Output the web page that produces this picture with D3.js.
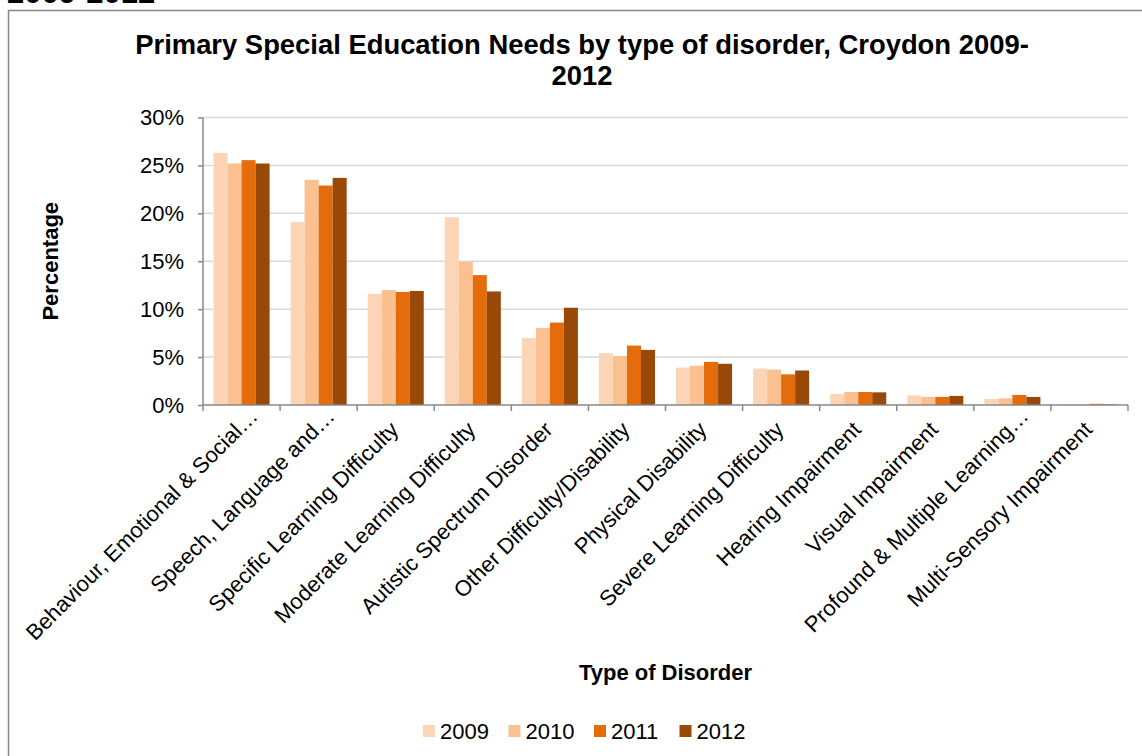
<!DOCTYPE html>
<html>
<head>
<meta charset="utf-8">
<script src="https://cdn.jsdelivr.net/npm/d3@7"></script>
<style>
  body { margin: 0; background: #fff; }
  svg { display: block; font-family: "Liberation Sans", Arial, sans-serif; }
</style>
</head>
<body>
<svg id="chart" width="1142" height="756"></svg>
<script>
var categories = [
  "Behaviour, Emotional & Social…",
  "Speech, Language and…",
  "Specific Learning Difficulty",
  "Moderate Learning Difficulty",
  "Autistic Spectrum Disorder",
  "Other Difficulty/Disability",
  "Physical Disability",
  "Severe Learning Difficulty",
  "Hearing Impairment",
  "Visual Impairment",
  "Profound & Multiple Learning…",
  "Multi-Sensory Impairment"
];
var years = ["2009", "2010", "2011", "2012"];
var values2009 = [26.3, 19.1, 11.6, 19.6, 7.0, 5.4, 3.9, 3.8, 1.15, 1.0, 0.63, 0.05];
var values2010 = [25.2, 23.5, 12.0, 14.95, 8.05, 5.1, 4.1, 3.7, 1.36, 0.85, 0.7, 0.05];
var values2011 = [25.55, 22.9, 11.8, 13.55, 8.6, 6.2, 4.5, 3.2, 1.36, 0.85, 1.05, 0.12];
var values2012 = [25.2, 23.7, 11.9, 11.85, 10.15, 5.75, 4.3, 3.6, 1.32, 0.95, 0.84, 0.05];
var yTicks = [0, 5, 10, 15, 20, 25, 30];
var colors = ["#FBD5B5", "#FAC090", "#E46C0A", "#984807"];

var series = [values2009, values2010, values2011, values2012];

var svg = d3.select("#chart");
var plot = {left: 203, right: 1128, top: 117.5, bottom: 405};

// chart frame, runs off the right and bottom of the picture
svg.append("rect")
  .attr("x", 8.5).attr("y", 10.5)
  .attr("width", 1160).attr("height", 800)
  .attr("fill", "#fff")
  .attr("stroke", "#878787")
  .attr("stroke-width", 1.5);

// heading of the page above, mostly cut off
svg.append("text")
  .attr("x", 7).attr("y", 3)
  .style("font-size", "31px").style("font-weight", "bold")
  .text("2009-2012");

var x0 = d3.scaleBand()
  .domain(categories)
  .range([plot.left, plot.right])
  .paddingInner(0.2724)
  .paddingOuter(0.1362);

var x1 = d3.scaleBand()
  .domain(years)
  .range([0, x0.bandwidth()]);

var y = d3.scaleLinear()
  .domain([0, 30])
  .range([plot.bottom, plot.top]);

// gridlines
svg.append("g")
  .selectAll("line")
  .data(yTicks.slice(1))
  .enter().append("line")
  .attr("x1", plot.left).attr("x2", plot.right)
  .attr("y1", function(d){ return y(d); })
  .attr("y2", function(d){ return y(d); })
  .attr("stroke", "#D9D9D9")
  .attr("stroke-width", 1.5);

// bars
svg.append("g")
  .selectAll("g")
  .data(series)
  .enter().append("g")
  .attr("fill", function(d, i){ return colors[i]; })
  .selectAll("rect")
  .data(function(d, i){
    return d.map(function(v, j){ return {cat: categories[j], year: years[i], value: v}; });
  })
  .enter().append("rect")
  .attr("x", function(d){ return x0(d.cat) + x1(d.year); })
  .attr("width", x1.bandwidth())
  .attr("y", function(d){ return y(d.value); })
  .attr("height", function(d){ return y(0) - y(d.value); });

// y axis
var yAxis = svg.append("g")
  .attr("transform", "translate(" + plot.left + ",0)")
  .call(d3.axisLeft(y)
    .tickValues(yTicks)
    .tickSize(5)
    .tickPadding(14)
    .tickFormat(function(d){ return d + "%"; }));
yAxis.select(".domain").attr("stroke", "#898989").attr("stroke-width", 1.5)
  .attr("d", "M0," + plot.top + "V" + plot.bottom);
yAxis.selectAll(".tick line").attr("stroke", "#898989").attr("stroke-width", 1.5);
yAxis.selectAll(".tick text")
  .attr("fill", "#000")
  .style("font-size", "22px")
  .style("font-family", "'Liberation Sans', Arial, sans-serif");

// x axis, ticks on the category boundaries
var xAxis = svg.append("g");
xAxis.append("line")
  .attr("x1", plot.left).attr("x2", plot.right)
  .attr("y1", plot.bottom).attr("y2", plot.bottom)
  .attr("stroke", "#898989").attr("stroke-width", 1.5);
xAxis.selectAll(".bound")
  .data(d3.range(categories.length + 1))
  .enter().append("line")
  .attr("class", "bound")
  .attr("x1", function(i){ return plot.left + i * x0.step(); })
  .attr("x2", function(i){ return plot.left + i * x0.step(); })
  .attr("y1", plot.bottom).attr("y2", plot.bottom + 6)
  .attr("stroke", "#898989").attr("stroke-width", 1.5);

xAxis.selectAll(".lbl")
  .data(categories)
  .enter().append("text")
  .attr("class", "lbl")
  .attr("text-anchor", "end")
  .attr("transform", function(d){
    var cx = x0(d) + x0.bandwidth() / 2;
    return "translate(" + (cx + 4) + "," + (plot.bottom + 26) + ") rotate(-45)";
  })
  .attr("dx", function(d){ return d.slice(-1) === "…" ? 19 : 0; })
  .style("font-size", "22px")
  .text(function(d){ return d; });

// titles
var title = svg.append("text")
  .attr("x", 582).attr("text-anchor", "middle")
  .style("font-size", "27.4px").style("font-weight", "bold");
title.append("tspan").attr("x", 582).attr("y", 54)
  .text("Primary Special Education Needs by type of disorder, Croydon 2009-");
title.append("tspan").attr("x", 582).attr("y", 85).text("2012");

svg.append("text")
  .attr("transform", "translate(58," + ((plot.top + plot.bottom) / 2) + ") rotate(-90)")
  .attr("text-anchor", "middle")
  .style("font-size", "22px").style("font-weight", "bold")
  .text("Percentage");

svg.append("text")
  .attr("x", (plot.left + plot.right) / 2).attr("y", 680)
  .attr("text-anchor", "middle")
  .style("font-size", "22px").style("font-weight", "bold")
  .text("Type of Disorder");

// legend
var legend = svg.append("g").attr("transform", "translate(423,731)");
var item = legend.selectAll("g")
  .data(years)
  .enter().append("g")
  .attr("transform", function(d, i){ return "translate(" + (i * 85.5) + ",0)"; });
item.append("rect")
  .attr("x", 0).attr("y", -6)
  .attr("width", 12).attr("height", 12)
  .attr("fill", function(d, i){ return colors[i]; });
item.append("text")
  .attr("x", 17).attr("y", 8)
  .style("font-size", "22px")
  .text(function(d){ return d; });
</script>
</body>
</html>
